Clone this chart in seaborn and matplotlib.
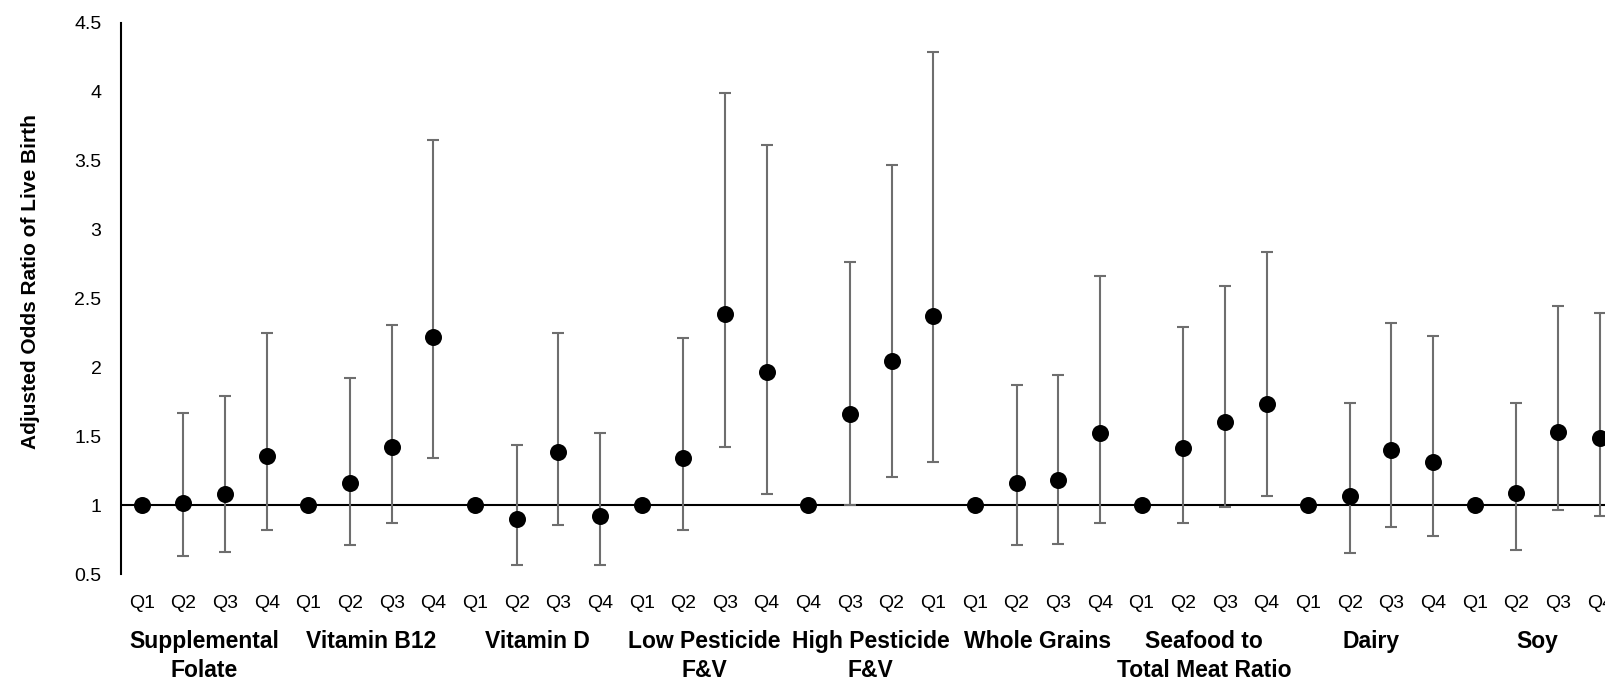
import numpy as np
import pandas as pd
import matplotlib
matplotlib.use("Agg")
import matplotlib.pyplot as plt
import seaborn as sns

groups = ["Supplemental\nFolate", "Vitamin B12", "Vitamin D", "Low Pesticide\nF&V",
          "High Pesticide\nF&V", "Whole Grains", "Seafood to\nTotal Meat Ratio",
          "Dairy", "Soy"]

quartiles = ["Q1", "Q2", "Q3", "Q4",
             "Q1", "Q2", "Q3", "Q4",
             "Q1", "Q2", "Q3", "Q4",
             "Q1", "Q2", "Q3", "Q4",
             "Q4", "Q3", "Q2", "Q1",
             "Q1", "Q2", "Q3", "Q4",
             "Q1", "Q2", "Q3", "Q4",
             "Q1", "Q2", "Q3", "Q4",
             "Q1", "Q2", "Q3", "Q4"]

odds = [1.00, 1.02, 1.085, 1.36,
        1.00, 1.165, 1.42, 2.22,
        1.00, 0.905, 1.39, 0.925,
        1.00, 1.345, 2.385, 1.965,
        1.00, 1.665, 2.045, 2.375,
        1.00, 1.165, 1.185, 1.525,
        1.00, 1.415, 1.605, 1.735,
        1.00, 1.07, 1.40, 1.315,
        1.00, 1.09, 1.535, 1.485]

lower = [np.nan, 0.63, 0.66, 0.82,
         np.nan, 0.71, 0.875, 1.345,
         np.nan, 0.565, 0.86, 0.565,
         np.nan, 0.825, 1.425, 1.08,
         np.nan, 1.005, 1.205, 1.315,
         np.nan, 0.715, 0.72, 0.875,
         np.nan, 0.875, 0.99, 1.07,
         np.nan, 0.655, 0.84, 0.775,
         np.nan, 0.68, 0.97, 0.925]

upper = [np.nan, 1.67, 1.79, 2.25,
         np.nan, 1.92, 2.31, 3.65,
         np.nan, 1.44, 2.25, 1.525,
         np.nan, 2.21, 3.99, 3.61,
         np.nan, 2.765, 3.47, 4.285,
         np.nan, 1.875, 1.945, 2.66,
         np.nan, 2.29, 2.59, 2.84,
         np.nan, 1.74, 2.32, 2.23,
         np.nan, 1.745, 2.445, 2.395]

df = pd.DataFrame({"quartile": quartiles, "odds": odds, "lower": lower, "upper": upper})
df["pos"] = np.arange(len(df))

sns.set_style("white")
plt.rcParams["font.family"] = ["Liberation Sans", "DejaVu Sans"]
plt.rcParams["text.color"] = "black"
plt.rcParams["xtick.color"] = "black"
plt.rcParams["ytick.color"] = "black"

fig = plt.figure(figsize=(16.06, 6.82), dpi=100)
ax = fig.add_axes([0.0753, 0.1578, 0.9338, 0.8091])

ax.axhline(1, color="black", lw=1.5, zorder=1)

ci = df.dropna()
ax.errorbar(ci["pos"], ci["odds"],
            yerr=[ci["odds"] - ci["lower"], ci["upper"] - ci["odds"]],
            fmt="none", ecolor="#6e6e6e", elinewidth=1.5, capsize=4.3,
            capthick=1.5, zorder=2)

sns.scatterplot(data=df, x="pos", y="odds", color="black", s=150,
                linewidth=0, zorder=3, ax=ax)

ax.set_xlim(-0.5, 35.5)
ax.set_ylim(0.5, 4.5)
yt = np.arange(0.5, 4.51, 0.5)
ax.set_yticks(yt)
ax.set_yticklabels([f"{v:g}" for v in yt], fontsize=14)
ax.set_xticks(df["pos"])
ax.set_xticklabels(df["quartile"], fontsize=14)
ax.tick_params(axis="y", length=0, pad=14, labelcolor="black")
ax.tick_params(axis="x", length=0, pad=15, labelcolor="black")
ax.set_xlabel("")
ax.set_ylabel("")

sns.despine(ax=ax, top=True, right=True, bottom=True)
ax.spines["left"].set_color("black")
ax.spines["left"].set_linewidth(1.5)

for i, g in enumerate(groups):
    ax.text(i * 4 + 1.5, -0.1, g, transform=ax.get_xaxis_transform(),
            ha="center", va="top", fontsize=16.5, fontweight="bold",
            linespacing=1.35, color="black")

fig.text(31 / 1606, 1 - 282 / 682, "Adjusted Odds Ratio of Live Birth",
         rotation=90, ha="center", va="center", fontsize=15, fontweight="bold",
         color="black")

fig.savefig("out.png", dpi=100)
